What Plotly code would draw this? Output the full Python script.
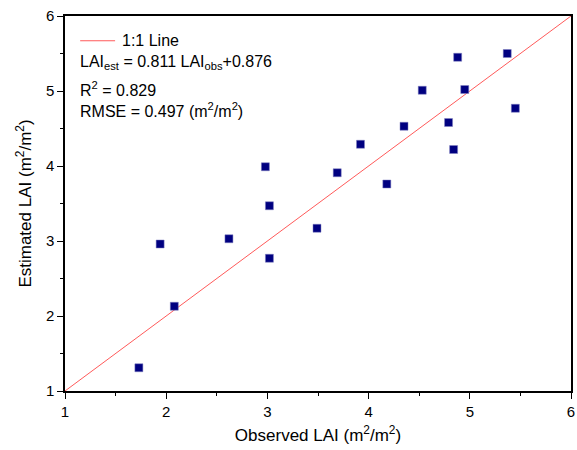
import plotly.graph_objects as go

# Observed vs estimated LAI (m2/m2)
observed = [1.73, 1.94, 2.08, 2.62, 2.98, 3.02, 3.02, 3.49, 3.69, 3.92,
            4.18, 4.35, 4.53, 4.79, 4.84, 4.88, 4.95, 5.37, 5.45]
estimated = [1.31, 2.96, 2.13, 3.03, 3.99, 3.47, 2.77, 3.17, 3.91, 4.29,
             3.76, 4.53, 5.01, 4.58, 4.22, 5.45, 5.02, 5.50, 4.77]

# 1:1 reference line
line_x = [1, 6]
line_y = [1, 6]

legend_label = "1:1 Line"
stats_text = [
    "LAI<sub>est</sub> = 0.811 LAI<sub>obs</sub>+0.876",
    "R<sup>2</sup> = 0.829",
    "RMSE = 0.497 (m<sup>2</sup>/m<sup>2</sup>)",
]

font_family = "Liberation Sans, Arial, sans-serif"
line_color = "#ff5a5a"

fig = go.Figure()

fig.add_trace(go.Scatter(
    x=line_x, y=line_y, mode="lines", name=legend_label, showlegend=False,
    line=dict(color=line_color, width=1),
))

fig.add_trace(go.Scatter(
    x=observed, y=estimated, mode="markers", showlegend=False,
    marker=dict(symbol="square", size=8, color="#000080",
                line=dict(color="#8080c0", width=0.5)),
))

# legend-like key in the top-left corner
fig.add_shape(type="line", xref="paper", yref="paper",
              x0=0.03, x1=0.099, y0=0.934, y1=0.934,
              line=dict(color=line_color, width=1))
fig.add_annotation(xref="paper", yref="paper", x=0.108, y=0.934,
                   xanchor="left", yanchor="middle", text=legend_label,
                   showarrow=False,
                   font=dict(family=font_family, size=16, color="black"))

# stats text block
stats_y = [0.875, 0.805, 0.749]
for txt, yy in zip(stats_text, stats_y):
    fig.add_annotation(
        xref="paper", yref="paper", x=0.026, y=yy,
        xanchor="left", yanchor="middle", text=txt, showarrow=False,
        font=dict(family=font_family, size=16, color="black"),
    )

axis_style = dict(
    range=[1, 6], dtick=1, showgrid=False, zeroline=False, automargin=False,
    showline=True, linecolor="black", linewidth=1.5, mirror=True,
    ticks="outside", ticklen=6, tickwidth=1.2, tickcolor="black",
    minor=dict(dtick=0.5, ticks="outside", ticklen=3, tickwidth=1.2, tickcolor="black"),
    tickfont=dict(family=font_family, size=15, color="black"),
    ticklabeloverflow="allow",
)

fig.update_xaxes(**axis_style,
                 title=dict(text="Observed LAI (m<sup>2</sup>/m<sup>2</sup>)",
                            font=dict(family=font_family, size=17, color="black"),
                            standoff=10))
fig.update_yaxes(**axis_style,
                 title=dict(text="Estimated LAI (m<sup>2</sup>/m<sup>2</sup>)",
                            font=dict(family=font_family, size=17, color="black"),
                            standoff=10))

fig.update_layout(
    width=577, height=450,
    margin=dict(l=65, r=6, t=16, b=59),
    plot_bgcolor="white", paper_bgcolor="white",
    showlegend=False,
)

# drop the default page margin so the figure fills the window
fig.write_html("out.html", config={"displayModeBar": False},
               post_script="document.body.style.margin='0';")
